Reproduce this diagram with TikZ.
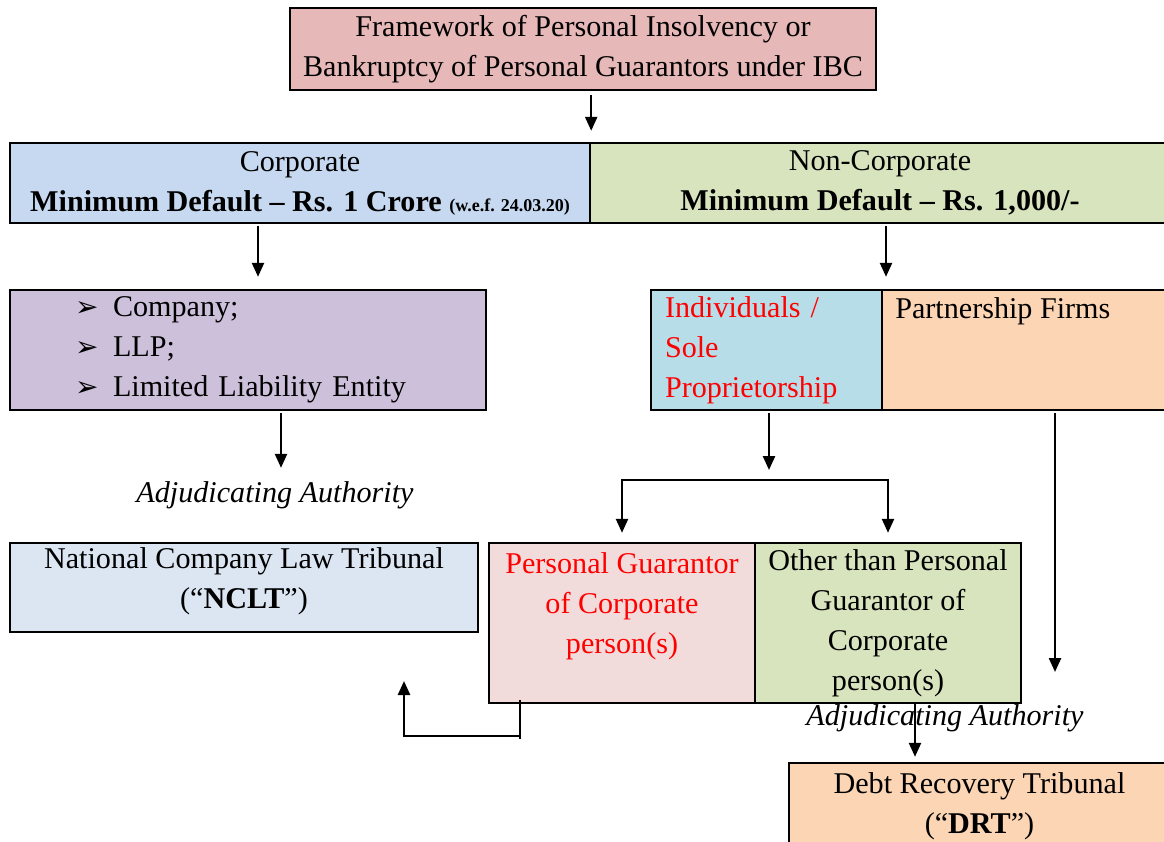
\documentclass[tikz,border=0pt]{standalone}
\usepackage{fontspec}
\setmainfont{Liberation Serif}
\newfontfamily\dingfont{DejaVu Sans}
\usepackage{xcolor}
\usetikzlibrary{positioning, arrows.meta}

\definecolor{framered}{HTML}{E6B8B7}
\definecolor{corpblue}{HTML}{C6D9F1}
\definecolor{ncgreen}{HTML}{D7E4BD}
\definecolor{entpurple}{HTML}{CCC0DA}
\definecolor{indivblue}{HTML}{B7DEE8}
\definecolor{firmorange}{HTML}{FCD5B5}
\definecolor{ncltblue}{HTML}{DCE6F2}
\definecolor{pgpink}{HTML}{F2DCDB}

\newcommand{\bulitem}{\makebox[28.5pt][l]{\dingfont\fontsize{21}{21}\selectfont ➢}}

\begin{document}
\begin{tikzpicture}[x=0.75pt, y=-0.75pt,
  every node/.style={inner sep=0pt, font=\fontsize{22.6}{30}\selectfont},
  box/.style={draw=black, line width=1.8pt, rectangle, align=center},
  arr/.style={-{Triangle[length=10.5pt,width=9pt]}, line width=1.8pt},
  plain/.style={line width=1.8pt}]
  \path[use as bounding box, fill=white] (0,0) rectangle (1164,842);

  \node[box, fill=framered, minimum width=439.5pt, minimum height=61.5pt] (frame) at (583,49)
    {Framework of Personal Insolvency or\\Bankruptcy of Personal Guarantors under IBC};
  \node[box, fill=corpblue, minimum width=435pt, minimum height=60pt] (corp) at (300,183)
    {Corporate\\\textbf{Minimum Default – Rs. 1 Crore} {\fontsize{13.5}{15}\selectfont\textbf{(w.e.f. 24.03.20)}}};
  \node[box, fill=ncgreen, minimum width=435pt, minimum height=60pt] (noncorp) at (880,183)
    {Non-Corporate\\\textbf{Minimum Default – Rs. 1,000/-}};

  \node[box, fill=entpurple, minimum height=90pt, text width=259.5pt, inner xsep=48.75pt, align=left] (ent) at (248,350)
    {\bulitem Company;\\\bulitem LLP;\\\bulitem Limited Liability Entity};
  \node[box, fill=indivblue, minimum height=90pt, text width=152.25pt, inner xsep=10.5pt, align=left, text=red] (indiv) at (766.5,350)
    {Individuals /\\Sole\\Proprietorship};
  \node[box, fill=firmorange, minimum width=216pt, minimum height=90pt] (firm) at (1026,350) {};
  \node[anchor=base west] (firmtext) at (895,318) {Partnership Firms};

  \node[anchor=base, font=\fontsize{22.6}{30}\selectfont\itshape] (adj1) at (275,502) {Adjudicating Authority};
  \node[box, fill=ncltblue, minimum width=351pt, minimum height=66.75pt, text depth=14pt] (nclt) at (244,587.5)
    {National Company Law Tribunal\\(“\textbf{NCLT}”)};

  \node[box, fill=pgpink, minimum width=199.5pt, minimum height=120pt, text=red] (pg) at (622,623)
    {Personal Guarantor\\of Corporate\\person(s)\\\mbox{}};
  \node[box, fill=ncgreen, minimum width=199.5pt, minimum height=120pt] (other) at (888,623)
    {Other than Personal\\Guarantor of\\Corporate\\person(s)};
  \node[anchor=base, font=\fontsize{22.6}{30}\selectfont\itshape] (adj2) at (945,725) {Adjudicating Authority};
  \node[box, fill=firmorange, minimum width=285.75pt, minimum height=65.25pt] (drt) at (979.5,806.5)
    {Debt Recovery Tribunal\\(“\textbf{DRT}”)};

  \coordinate (split) at (769,480);
  \coordinate (firmend) at (1055,672);
  \coordinate (pgfoot) at (520,703);
  \coordinate (bend) at (404,736);
  \coordinate (ncltup) at (404,681);

  \draw[arr, shorten <=3pt, shorten >=8.25pt] (frame.south -| corp.east) -- (corp.north east);
  \draw[arr, shorten <=1.5pt, shorten >=9pt] ([xshift=-31.5pt]corp.south) -- ([xshift=7.5pt]ent.north);
  \draw[arr, shorten <=1.5pt, shorten >=9pt] ([xshift=4.5pt]noncorp.south) -- ([xshift=4.5pt]noncorp.south |- indiv.north);
  \draw[arr, shorten <=1.5pt, shorten >=9.75pt] ([xshift=24.75pt]ent.south) -- ([xshift=24.75pt]ent.south |- adj1.north);
  \draw[arr, shorten <=1.5pt, shorten >=7.5pt] (indiv.south -| split) -- (split);
  \draw[arr, shorten >=6.75pt] (split -| other.north) -- (split -| pg.north) -- (pg.north);
  \draw[arr, shorten >=6.75pt] (split -| pg.north) -- (split -| other.north) -- (other.north);
  \draw[arr, shorten <=1.5pt] (firm.south -| firmend) -- (firmend);
  \draw[arr, shorten >=3.75pt] ([xshift=20.25pt]other.south) -- ([xshift=20.25pt]other.south |- drt.north);
  \draw[plain] ([yshift=2.25pt]pgfoot) -- ++(0,39);
  \draw[arr] (pgfoot |- bend) -- (bend) -- (ncltup);
\end{tikzpicture}
\end{document}
